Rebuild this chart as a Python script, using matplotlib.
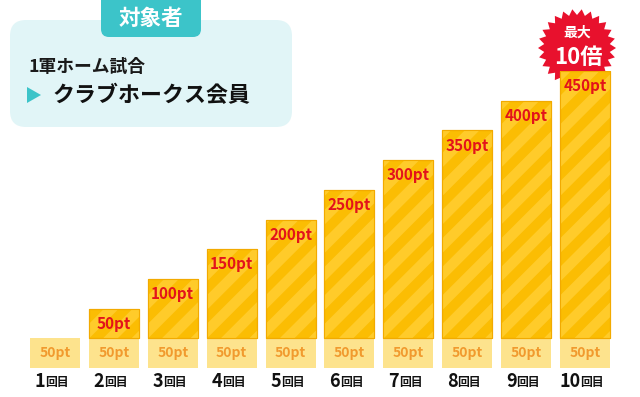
import numpy as np
import matplotlib
matplotlib.use('Agg')
import matplotlib.pyplot as plt
from matplotlib.patches import FancyBboxPatch, Polygon

JP = ['Noto Sans CJK JP', 'DejaVu Sans']
plt.rcParams['font.family'] = JP

rounds = ['1', '2', '3', '4', '5', '6', '7', '8', '9', '10']
base_pt = [50, 50, 50, 50, 50, 50, 50, 50, 50, 50]
bonus_pt = [0, 50, 100, 150, 200, 250, 300, 350, 400, 450]

W, H = 640, 397
fig = plt.figure(figsize=(W / 100, H / 100), dpi=100)
fig.patch.set_facecolor('white')

# decoration layer in pixel coordinates
deco = fig.add_axes([0, 0, 1, 1], zorder=0)
deco.set_xlim(0, W); deco.set_ylim(H, 0); deco.axis('off')

# header box
deco.add_patch(FancyBboxPatch((10, 20), 282, 107, boxstyle='round,pad=0,rounding_size=16',
                              fc='#e1f5f7', ec='none'))
deco.add_patch(FancyBboxPatch((101, -20), 100, 57, boxstyle='round,pad=0,rounding_size=8',
                              fc='#3cc4c9', ec='none'))
deco.text(151, 18, '対象者', color='white', fontsize=15.5, fontweight='bold', ha='center', va='center')
deco.text(29, 67, '1軍ホーム試合', color='#1a1a1a', fontsize=12.8, fontweight='bold', ha='left', va='center')
deco.add_patch(Polygon([[27, 87], [27, 103], [41, 95]], closed=True, fc='#3cc4c9', ec='none'))
deco.text(52, 95, 'クラブホークス会員', color='#111111', fontsize=15.8, fontweight='bold',
          ha='left', va='center')

# starburst
n_sp = 26
ang = np.linspace(0, 2 * np.pi, 2 * n_sp, endpoint=False)
rad = np.where(np.arange(2 * n_sp) % 2 == 0, 39, 33)
cx, cy = 577, 48
deco.add_patch(Polygon(np.c_[cx + rad * np.cos(ang), cy + rad * np.sin(ang)], closed=True,
                       fc='#e8112d', ec='none'))
deco.text(cx, 33, '最大', color='white', fontsize=10, fontweight='bold', ha='center', va='center')
deco.text(cx + 1, 57, '10倍', color='white', fontsize=16, fontweight='bold', ha='center', va='center')

# bars
ax = fig.add_axes([25.5 / W, 1 - 368 / H, 589 / W, 297 / H], zorder=1)
ax.patch.set_alpha(0)
ax.set_xlim(-0.5, 9.5); ax.set_ylim(0, 500)
ax.axis('off')
x = np.arange(len(rounds))
bw = 0.85

ax.bar(x, base_pt, width=bw, color='#fde38d', edgecolor='none')
for xi, b in zip(x, base_pt):
    ax.text(xi, b / 2, f'{b}pt', color='#f19a2e', fontsize=10, fontweight='bold',
            ha='center', va='center')

top_x = [xi for xi, v in zip(x, bonus_pt) if v > 0]
top_v = [v for v in bonus_pt if v > 0]
bars = ax.bar(top_x, top_v, bottom=[base_pt[i] for i in top_x], width=bw, color='#fbbd03',
              edgecolor='#f2aa00', linewidth=0.8)

# diagonal stripes clipped to each bar (45 deg on screen)
px_x = 589 / 10          # pixels per x unit
px_y = 297 / 500         # pixels per pt
slope = px_x / px_y
period = 48              # in pt units along y
for rect in bars:
    x0, y0 = rect.get_x(), rect.get_y()
    w, h = rect.get_width(), rect.get_height()
    xs = np.array([x0 - 0.1, x0 + w + 0.1])
    for c in np.arange(y0 - w * slope - period, y0 + h + period, period):
        ln, = ax.plot(xs, c + (xs - x0) * slope, color='#ffcb2a', lw=7.5,
                      solid_capstyle='butt', zorder=2)
        ln.set_clip_path(rect)
    rect.set_zorder(1)
    ax.add_patch(plt.Rectangle((x0, y0), w, h, fill=False, ec='#f2aa00', lw=0.8, zorder=3))

for xi, v in zip(top_x, top_v):
    ax.annotate(f'{v}pt', (xi, base_pt[xi] + v), xytext=(0, -11), textcoords='offset points',
                color='#e3131b', fontsize=11, fontweight='bold', ha='center', va='center', zorder=4)

# round labels
for xi, r in zip(x, rounds):
    shift = 3.5 * (len(r) - 1)
    ax.annotate(r, (xi, 0), xytext=(-7 + shift, -10), textcoords='offset points',
                fontsize=13, fontweight='bold', ha='right', va='center', color='#111111')
    ax.annotate('回目', (xi, 0), xytext=(-7 + shift, -10.5), textcoords='offset points',
                fontsize=8.5, fontweight='bold', ha='left', va='center', color='#111111')

fig.savefig('out.png', dpi=100)
